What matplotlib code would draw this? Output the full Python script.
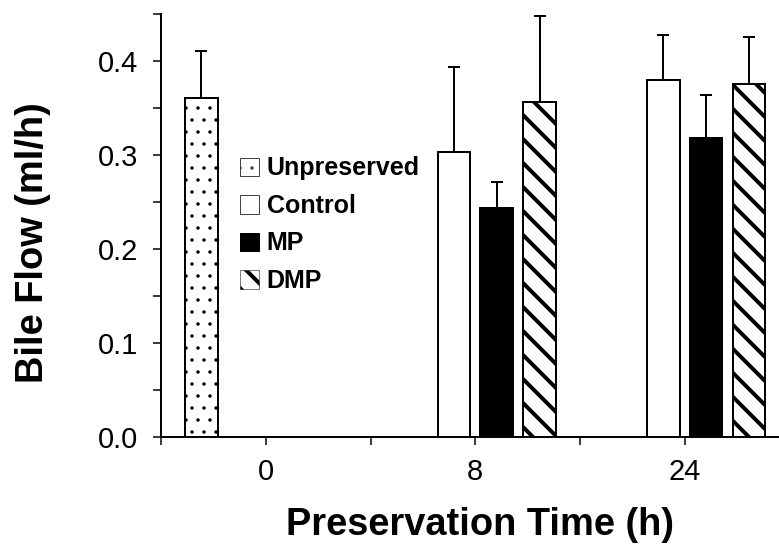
import numpy as np
import matplotlib
matplotlib.use('Agg')
import matplotlib.pyplot as plt
from matplotlib.patches import Patch
from matplotlib.ticker import MultipleLocator, FixedLocator

# data
times = ['0', '8', '24']
series = ['Unpreserved', 'Control', 'MP', 'DMP']
unpreserved = [0.361]
unpreserved_err = [0.050]
control = [0.303, 0.380]
control_err = [0.091, 0.048]
mp = [0.243, 0.318]
mp_err = [0.028, 0.046]
dmp = [0.356, 0.375]
dmp_err = [0.092, 0.050]

plt.rcParams['font.family'] = ['Liberation Sans', 'DejaVu Sans']

fig = plt.figure(figsize=(779 / 72, 545 / 72), dpi=72)
ax = fig.add_axes([161 / 779, 108.5 / 545, 628.5 / 779, 422.5 / 545])

centers = np.arange(len(times)) + 0.5
slot = 0.205
width = 0.155

def slot_x(group_idx, s):
    return centers[group_idx] + (s - 1.5) * slot

def draw(xs, vals, errs, face, hatch, hlw):
    with plt.rc_context({'hatch.linewidth': hlw}):
        bars = ax.bar(xs, vals, width=width, color=face, edgecolor='black',
                      linewidth=2, hatch=hatch, zorder=2)
    for b in bars:
        if hasattr(b, 'set_hatch_linewidth'):
            b.set_hatch_linewidth(hlw)
    ax.errorbar(xs, vals, yerr=[np.zeros(len(vals)), errs], fmt='none',
                ecolor='black', elinewidth=2, capsize=6, capthick=2, zorder=1)

draw([slot_x(0, 0)], unpreserved, unpreserved_err, 'white', '.', 1.0)
draw([slot_x(1, 1), slot_x(2, 1)], control, control_err, 'white', None, 1.0)
draw([slot_x(1, 2), slot_x(2, 2)], mp, mp_err, 'black', None, 1.0)
draw([slot_x(1, 3), slot_x(2, 3)], dmp, dmp_err, 'white', '\\', 4.0)

ax.set_xlim(0, 3)
ax.set_ylim(0, 0.45)
ax.xaxis.set_major_locator(FixedLocator(centers))
ax.xaxis.set_minor_locator(FixedLocator([0, 1, 2, 3]))
ax.set_xticklabels(times)
ax.yaxis.set_major_locator(MultipleLocator(0.1))
ax.yaxis.set_minor_locator(MultipleLocator(0.05))
ax.yaxis.set_major_formatter(matplotlib.ticker.FormatStrFormatter('%.1f'))

for s in ['top', 'right']:
    ax.spines[s].set_visible(False)
for s in ['left', 'bottom']:
    ax.spines[s].set_linewidth(2)

ax.tick_params(axis='both', which='both', direction='out', length=8, width=1.5)
ax.tick_params(axis='x', which='major', labelsize=29, pad=14)
ax.tick_params(axis='y', which='major', labelsize=29, pad=15)

ax.set_xlabel('Preservation Time (h)', fontsize=38, fontweight='bold')
ax.set_ylabel('Bile Flow (ml/h)', fontsize=38, fontweight='bold')
ax.xaxis.set_label_coords(0.508, -0.166)
ax.yaxis.set_label_coords(-0.175, 0.458)

# legend swatches (thin grey borders, like the original)
handles = [Patch(facecolor='white', edgecolor='#444444', linewidth=1, hatch='.'),
           Patch(facecolor='white', edgecolor='#444444', linewidth=1),
           Patch(facecolor='black', edgecolor='black', linewidth=1),
           Patch(facecolor='white', edgecolor='black', linewidth=0.5, hatch='\\')]

leg = fig.legend(handles, series, loc='upper left',
                 bbox_to_anchor=(240 / 779, (545 - 156.5) / 545),
                 frameon=False, prop={'weight': 'bold', 'size': 25},
                 handlelength=0.76, handleheight=0.76, handletextpad=0.3,
                 labelspacing=0.54, borderpad=0, borderaxespad=0)
dmp_sw = leg.legend_handles[3]
if hasattr(dmp_sw, 'set_hatch_linewidth'):
    dmp_sw.set_hatch_linewidth(4.0)

fig.savefig('out.png', dpi=72)
